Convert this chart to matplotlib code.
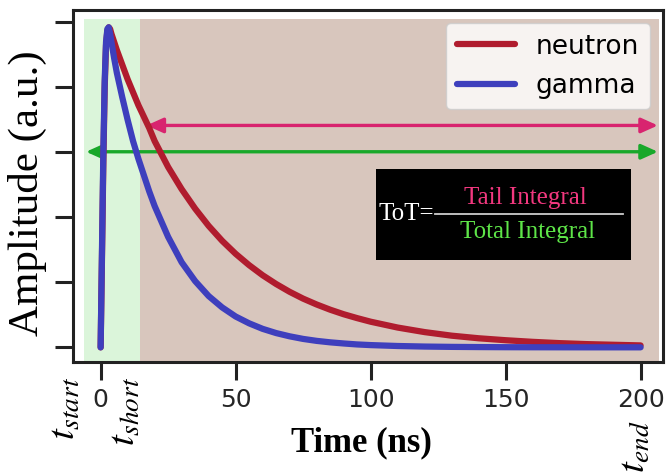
import numpy as np
import matplotlib
matplotlib.use("Agg")
import matplotlib.pyplot as plt

plt.rcParams["mathtext.fontset"] = "stix"

# Pulse shapes (normalised amplitude vs time in ns)
time_ns = [0, 0.5, 1, 1.5, 2, 2.5, 3, 3.5, 4, 5, 6, 8, 10, 12, 14, 16, 18, 20,
           25, 30, 35, 40, 45, 50, 55, 60, 65, 70, 75, 80, 85, 90, 95, 100,
           110, 120, 130, 140, 150, 160, 170, 180, 190, 200]
neutron = [0, 0.28, 0.57, 0.80, 0.93, 0.975, 0.985, 0.98, 0.965, 0.94, 0.915, 0.87,
           0.825, 0.785, 0.745, 0.71, 0.675, 0.635,
           0.555, 0.487, 0.427, 0.374, 0.328, 0.288, 0.253, 0.222, 0.195, 0.171,
           0.150, 0.132, 0.116, 0.102, 0.090, 0.079,
           0.061, 0.047, 0.036, 0.028, 0.022, 0.017, 0.013, 0.010, 0.008, 0.006]
gamma = [0, 0.30, 0.60, 0.82, 0.94, 0.98, 0.985, 0.965, 0.94, 0.89, 0.845, 0.77,
         0.70, 0.635, 0.58, 0.53, 0.48, 0.435,
         0.34, 0.262, 0.204, 0.158, 0.123, 0.095, 0.074, 0.057, 0.044, 0.034,
         0.026, 0.020, 0.0155, 0.012, 0.009, 0.007,
         0.0042, 0.0025, 0.0015, 0.0009, 0.0005, 0.0003, 0.0002, 0.0001, 0.0001, 0.0001]

# integration window edges (ns): t_start, t_short, t_end
t_start, t_short, t_end = -6, 14.5, 207
shade_top = 1.01
tail_arrow = [17, 206.4, 0.683]
total_arrow = [-5.4, 206.4, 0.602]

x_ticks = [0, 50, 100, 150, 200]
y_ticks = [0, 0.2, 0.4, 0.6, 0.8, 1.0]

fig = plt.figure(figsize=(6.67, 4.73), dpi=100)
ax = fig.add_axes([0.110, 0.2347, 0.884, 0.7443])

ax.set_xlim(-10.1, 208.3)
ax.set_ylim(-0.045, 1.0385)

# shaded windows
ax.fill_between([t_start, t_short], -0.045, shade_top, color="#dbf5da", lw=0, zorder=0)
ax.fill_between([t_short, t_end], -0.045, shade_top, color="#d8c6bd", lw=0, zorder=0)

ax.plot(time_ns, neutron, color="#b01c2e", lw=4.5, solid_capstyle="round",
        solid_joinstyle="round", label="neutron", zorder=3)
ax.plot(time_ns, gamma, color="#3e3fbd", lw=4.5, solid_capstyle="round",
        solid_joinstyle="round", label="gamma", zorder=4)

# integral arrows
ax.annotate("", xy=(tail_arrow[1], tail_arrow[2]), xytext=(tail_arrow[0], tail_arrow[2]),
            arrowprops=dict(arrowstyle="<|-|>,head_length=10,head_width=4.5", mutation_scale=1,
                            color="#d8246f", lw=2.4, shrinkA=0, shrinkB=0), zorder=2)
ax.annotate("", xy=(total_arrow[1], total_arrow[2]), xytext=(total_arrow[0], total_arrow[2]),
            arrowprops=dict(arrowstyle="<|-|>,head_length=10,head_width=4.5", mutation_scale=1,
                            color="#19a82a", lw=2.4, shrinkA=0, shrinkB=0), zorder=2)

# ToT formula box
ax.add_patch(plt.Rectangle((102, 0.27), 94.5, 0.278, transform=ax.transData,
                           facecolor="black", edgecolor="none", zorder=5))
ax.text(103, 0.41, "ToT=", color="white", fontsize=18, family="Liberation Serif",
        ha="left", va="center", zorder=6)
ax.plot([124, 193.5], [0.411, 0.411], color="#cccccc", lw=1.3, zorder=6)
ax.text(157.5, 0.442, "Tail Integral", color="#f2387f", fontsize=18, family="Liberation Serif",
        ha="center", va="baseline", zorder=6)
ax.text(158, 0.338, "Total Integral", color="#5ee548", fontsize=18, family="Liberation Serif",
        ha="center", va="baseline", zorder=6)

for s in ax.spines.values():
    s.set_linewidth(2.2)
    s.set_color("#222222")

ax.set_xticks(x_ticks)
ax.set_yticks(y_ticks)
ax.set_yticklabels([])
ax.tick_params(axis="both", length=13, width=2.2, color="#222222")
ax.tick_params(axis="x", labelsize=18, labelcolor="#262626", pad=6)

ax.set_xlabel("Time (ns)", family="Liberation Serif", fontweight="bold", fontsize=25, va="center")
ax.xaxis.set_label_coords(0.488, -0.23)
ax.set_ylabel("Amplitude (a.u.)", family="Liberation Serif", fontsize=31, va="center")
ax.yaxis.set_label_coords(-0.077, 0.48)

leg = ax.legend(loc="upper right", fontsize=19, handlelength=2.2, fancybox=True)

# window labels under the axis
W, H = 667, 473
fig.text(64 / W, 1 - 408 / H, r"$t_{start}$", rotation=90, fontsize=28, ha="center", va="center")
fig.text(124 / W, 1 - 411 / H, r"$t_{short}$", rotation=90, fontsize=28, ha="center", va="center")
fig.text(633.5 / W, 1 - 447 / H, r"$t_{end}$", rotation=90, fontsize=28, ha="center", va="center")

fig.savefig("out.png", dpi=100)
